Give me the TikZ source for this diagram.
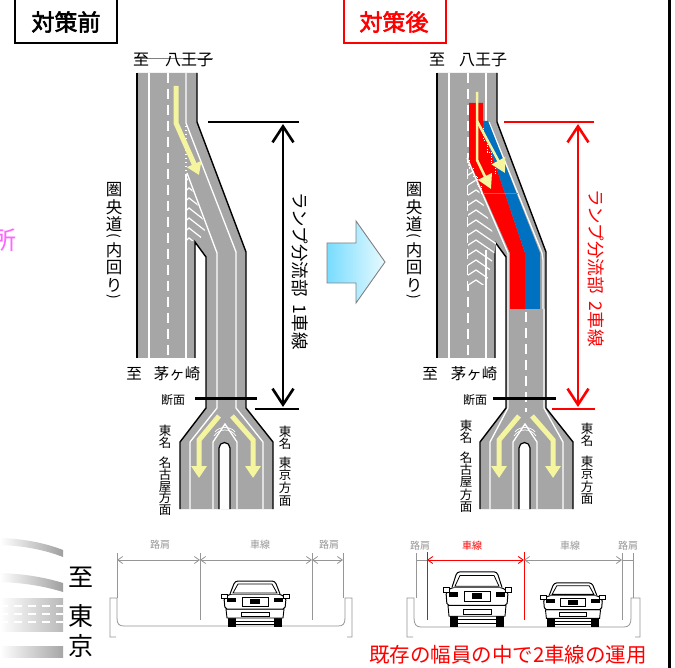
\documentclass[tikz,border=0pt]{standalone}
\usepackage{fontspec}
\setmainfont{Noto Sans CJK JP}[AutoFakeBold=2.5]
\usetikzlibrary{arrows.meta}

\definecolor{roadgray}{RGB}{166,166,166}
\definecolor{laneyel}{RGB}{245,245,160}
\definecolor{laneblue}{RGB}{0,112,192}
\definecolor{pinkmag}{RGB}{255,102,255}
\definecolor{arrcyanA}{RGB}{120,220,255}
\definecolor{arrcyanB}{RGB}{232,250,255}
\definecolor{secgray}{RGB}{150,150,150}

\newcommand\fsz[1]{\fontsize{#1}{#1}\selectfont}

% pavement, edges and the split island of one ramp plan
\newcommand\drawRoad{%
  \fill[roadgray] (137,73) -- (137,358) -- (195,358) -- (195,242) -- (206,257) -- (206,408)
    -- (180,442) -- (180,509) -- (273,509) -- (273,442) -- (246,408) -- (246,252)
    -- (197,122) -- (197,73) -- cycle;
  \draw[edge] (137,73) -- (137,358);
  \draw[edge] (197,73) -- (197,122) -- (246,252) -- (246,408) -- (273,442) -- (273,509);
  \draw[edge] (195,358) -- (195,242) -- (206,257) -- (206,408) -- (180,442) -- (180,509);
}
% lane marks and arrows at the Tomei split
\newcommand\splitMarks{%
  \draw[wline] (213,509) -- (213,442) -- (225,424) -- (237,442) -- (237,509);
  \draw[white,line width=0.7pt] (214,436) .. controls (219,428) and (231,428) .. (236,436);
  \draw[white,line width=0.7pt] (215,432) .. controls (219,426) and (231,426) .. (235,432);
  \filldraw[fill=white,draw=black,line width=1.2pt] (219,509) -- (219,448)
    arc[start angle=180,end angle=360,radius=5.5] -- (230,509);
  \draw[yarrow] (219,416) -- (199,440) -- (199,478);
  \draw[yarrow] (232,416) -- (253,440) -- (253,478);
}

\tikzset{
  car/.pic={
    \fill[black] (-27,-13) rectangle (-19,0);
    \fill[black] (19,-13) rectangle (27,0);
    \draw[line width=0.7pt] (-19,-3) -- (19,-3) (-19,-6) -- (19,-6);
    \draw[line width=0.9pt,fill=white] (-29,-18) -- (-28,-9) -- (28,-9) -- (29,-18) -- cycle;
    \draw[line width=0.6pt] (-14,-15) rectangle (14,-11);
    \draw[line width=1pt,fill=white,rounded corners=2pt] (-30,-18) -- (-31,-29) -- (-25,-33)
      -- (25,-33) -- (31,-29) -- (30,-18) -- cycle;
    \fill[black] (-28,-29) rectangle (-19,-25);
    \fill[black] (19,-29) rectangle (28,-25);
    \draw[line width=0.8pt] (-13,-30) rectangle (13,-21);
    \fill[black] (-5,-28) rectangle (5,-23);
    \draw[line width=1pt,fill=white,rounded corners=3pt] (-25,-33) -- (-20,-46) -- (20,-46) -- (25,-33);
    \draw[line width=0.8pt] (-22,-34) -- (-17,-43) -- (17,-43) -- (22,-34) -- cycle;
    \draw[line width=0.8pt,fill=white] (-34,-33) rectangle (-28,-29);
    \draw[line width=0.8pt,fill=white] (28,-33) rectangle (34,-29);
  }
}

\begin{document}
\begin{tikzpicture}[x=1pt,y=-1pt,
  edge/.style={black,line width=1.4pt},
  wline/.style={white,line width=1.3pt},
  wdash/.style={white,line width=1.3pt,dash pattern=on 10pt off 6pt},
  wdot/.style={white,line width=1.3pt,dash pattern=on 1.5pt off 2.5pt},
  yarrow/.style={laneyel,line width=5pt,-{Triangle[length=12pt,width=15pt]}},
  ythin/.style={laneyel,line width=2.5pt,-{Triangle[length=14pt,width=15pt]}},
  dimline/.style={line width=2.6pt},
  dimarrow/.style={line width=2.6pt,{Straight Barb[length=16pt,width=21pt]}-{Straight Barb[length=16pt,width=21pt]}},
  lbl/.style={inner sep=0pt,outer sep=0pt},
  secline/.style={draw=secgray,line width=0.8pt},
  secdim/.style={secline,{Straight Barb[length=5pt,width=7pt]}-{Straight Barb[length=5pt,width=7pt]}},
  reddim/.style={red,line width=0.9pt,{Straight Barb[length=5pt,width=7pt]}-{Straight Barb[length=5pt,width=7pt]}},
  zebra/.style={white,line width=1.2pt},
]
\useasboundingbox (0,0) rectangle (675,668);
\fill[white] (0,0) rectangle (675,668);

% ---------- frame line on the right ----------
\draw[line width=2.5pt] (669.5,0) -- (669.5,668);

% ---------- title boxes ----------
\draw[line width=2.5pt] (15,-5) rectangle (117,43);
\node[lbl,font=\fsz{23}\bfseries] (tBefore) at (66,22) {対策前};
\draw[red,line width=2.5pt] (344,-5) rectangle (446,43);
\node[lbl,font=\fsz{23}\bfseries,text=red] (tAfter) at (394,22) {対策後};

% ---------- fragments at the left edge ----------
\node[lbl,anchor=east,font=\fsz{25},text=pinkmag] (frag) at (16,240) {所};
\shade[left color=white,right color=gray!75] (0,538) .. controls (30,539) and (50,545) .. (63,550)
  -- (63,557) .. controls (50,552) and (30,546) .. (0,545) -- cycle;
\shade[left color=white,right color=gray!75] (0,573) .. controls (30,574) and (50,579) .. (63,583)
  -- (63,592) .. controls (50,588) and (30,583) .. (0,582) -- cycle;
\shade[left color=white,right color=gray!55] (0,598) rectangle (63,631);
\foreach \yy in {606,614,622}
  \draw[white,line width=1.2pt,dash pattern=on 8pt off 6pt] (0,\yy) -- (63,\yy);
\shade[left color=white,right color=gray!70] (0,646) rectangle (63,657);
\node[lbl,font=\fsz{25}] (toA) at (81,577) {至};
\node[lbl,font=\fsz{25}] (toB) at (81,616) {東};
\node[lbl,font=\fsz{25}] (toC) at (81,646) {京};

% ================= BEFORE =================
\drawRoad
\draw[wline] (149,73) -- (149,358);
\draw[wdash] (168,73) -- (168,358);
\draw[wline] (186,73) -- (186,123) -- (236,252) -- (236,408) -- (263,442) -- (263,509);
\draw[wdot] (186,126) -- (186,172);
\draw[wline] (186,174) -- (186,358);
\draw[wline] (187,173) -- (217,253) -- (217,408) -- (190,442) -- (190,509);
\begin{scope}
  \clip (186,173) -- (206,228) -- (199,241) -- (186,241) -- cycle;
  \foreach \yy in {178,188,...,238}
    \draw[zebra] (180,\yy+8) -- (189,\yy) -- (212,\yy+18);
\end{scope}
\splitMarks
\draw[yarrow] (176,86) -- (176,123) -- (199,175);

\draw[gray,line width=0.8pt] (134,58) -- (213,58);
\node[lbl,font=\fsz{16}] (bN1) at (141,60) {至};
\node[lbl,font=\fsz{16}] (bN2) at (189,60) {八王子};
\node[lbl,font=\fsz{15.5}] (bS1) at (134,374) {至};
\node[lbl,font=\fsz{15.5}] (bS2) at (177,374) {茅ヶ崎};
\foreach \c/\yy in {圏/190,央/207,道/224,内/250,回/268,り/285}
  \node[lbl,font=\fsz{16.5}] (bK\yy) at (114,\yy) {\c};
\node[lbl,font=\fsz{14},rotate=-90] (bKp1) at (114,236) {(};
\node[lbl,font=\fsz{14},rotate=-90] (bKp2) at (114,297) {)};
\node[lbl,font=\fsz{12}] (bDan) at (173,400) {断面};
\draw[line width=3pt] (195,398) -- (257,398);
\foreach \c/\yy in {東/431,名/443,名/463,古/475,屋/487,方/498,面/510}
  \node[lbl,font=\fsz{12.5}] (bW\yy) at (165,\yy) {\c};
\foreach \c/\yy in {東/432,名/444,東/463,京/475,方/488,面/501}
  \node[lbl,font=\fsz{12.5}] (bE\yy) at (285,\yy) {\c};

% dimension of the diverge section
\coordinate (bDimT) at (283,124);
\coordinate (bDimB) at (283,407);
\draw[dimline] (208,122) -- (299,122);
\draw[dimline] (255,409) -- (299,409);
\draw[dimarrow] (bDimT) -- (bDimB);
\node[lbl,font=\fsz{17.5},rotate=-90] (bLen) at (300,271) {ランプ分流部\hspace{0.45em}1車線};

% ---------- arrow between the plans ----------
\shadedraw[left color=arrcyanA,right color=arrcyanB,draw=gray,line width=0.9pt]
  (327,243) -- (356,243) -- (356,221) -- (385,262) -- (356,303) -- (356,283) -- (327,283) -- cycle;
\node[lbl] (midArrow) at (356,262) {};

% ================= AFTER =================
\begin{scope}[xshift=300pt]
  \drawRoad
  \draw[wline] (149,73) -- (149,358);
  \draw[wdash] (168,73) -- (168,358);
  \draw[wline] (186,73) -- (186,123);
  \draw[wline] (186,285) -- (186,358);
  \begin{scope}
    \clip (168,157) -- (196,243) -- (195,250) -- (186,285) -- (168,285) -- cycle;
    \fill[roadgray] (168,157) rectangle (200,290);
    \foreach \yy in {160,170,...,290}
      \draw[zebra] (162,\yy+9) -- (176,\yy) -- (205,\yy+20);
  \end{scope}
  \draw[wline] (167,158) -- (208,253) -- (208,309);
  \draw[wline] (186,250) -- (186,285);
  \draw[wline] (189,122) -- (242,253) -- (243,260) -- (243,309);
  % lanes of the two-lane ramp
  \fill[red] (169,103) -- (183,103) -- (183,128) -- (225,253) -- (225,309) -- (210,309)
    -- (210,253) -- (169,160) -- cycle;
  \fill[laneblue] (183,121) -- (188,121) -- (240,253) -- (240,309) -- (225,309) -- (225,253)
    -- (183,128) -- cycle;
  \draw[white,line width=0.6pt,dash pattern=on 1pt off 1.5pt] (169,160) -- (169,168) -- (173,168)
    -- (173,176) -- (177,176) -- (177,186) -- (181,186) -- (181,194);
  \draw[white,line width=0.6pt,dash pattern=on 1pt off 1.5pt] (183,128) -- (183,140) -- (187,140)
    -- (187,152) -- (191,152) -- (191,164) -- (195,164) -- (195,176);
  \draw[gray,line width=0.8pt] (183,193) -- (218,193);
  \draw[wline] (208,309) -- (208,408) -- (190,442) -- (190,509);
  \draw[wline] (244,309) -- (244,408) -- (263,442) -- (263,509);
  \draw[wdash] (226,312) -- (226,412);
  \splitMarks
  \draw[ythin] (177,92) -- (177,160) -- (191,189);
  \draw[ythin] (177,121) -- (205,173);
\end{scope}

\node[lbl,font=\fsz{16}] (aN1) at (437,60) {至};
\node[lbl,font=\fsz{16}] (aN2) at (483,60) {八王子};
\node[lbl,font=\fsz{15.5}] (aS1) at (430,374) {至};
\node[lbl,font=\fsz{15.5}] (aS2) at (474,374) {茅ヶ崎};
\foreach \c/\yy in {圏/190,央/207,道/224,内/250,回/268,り/285}
  \node[lbl,font=\fsz{16.5}] (aK\yy) at (414,\yy) {\c};
\node[lbl,font=\fsz{14},rotate=-90] (aKp1) at (414,236) {(};
\node[lbl,font=\fsz{14},rotate=-90] (aKp2) at (414,297) {)};
\node[lbl,font=\fsz{12}] (aDan) at (475,400) {断面};
\draw[line width=3pt] (493,398) -- (556,398);
\foreach \c/\yy in {東/426,名/438,名/458,古/470,屋/482,方/495,面/507}
  \node[lbl,font=\fsz{12.5}] (aW\yy) at (466,\yy) {\c};
\foreach \c/\yy in {東/429,名/441,東/462,京/474,方/487,面/499}
  \node[lbl,font=\fsz{12.5}] (aE\yy) at (587,\yy) {\c};

\coordinate (aDimT) at (578,124);
\coordinate (aDimB) at (578,407);
\draw[dimline,red] (504,122) -- (594,122);
\draw[dimline,red] (552,409) -- (595,409);
\draw[dimarrow,red] (aDimT) -- (aDimB);
\node[lbl,font=\fsz{17.5},rotate=-90,text=red] (aLen) at (596,268) {ランプ分流部\hspace{0.45em}2車線};

% ================= CROSS SECTIONS =================
% before
\draw[secline] (116,637) -- (110,637) -- (110,598) -- (117,598) -- (117,618)
  .. controls (117,624) and (119,626) .. (124,626) -- (338,626)
  .. controls (343,626) and (345,624) .. (345,618) -- (345,598) -- (352,598) -- (352,637) -- (347,637);
\draw[secline] (117,553) -- (117,598);
\draw[secline] (200,553) -- (200,620);
\draw[secline] (312,553) -- (312,620);
\draw[secline] (343,553) -- (343,598);
\coordinate (bs1) at (117,560); \coordinate (bs2) at (200,560);
\coordinate (bs3) at (312,560); \coordinate (bs4) at (343,560);
\draw[secdim] (bs1) -- (bs2);
\draw[secdim] (bs2) -- (bs3);
\draw[secdim] (bs3) -- (bs4);
\node[lbl,font=\fsz{10},text=secgray] (bsl1) at (160,545) {路肩};
\node[lbl,font=\fsz{10},text=secgray] (bsl2) at (260,545) {車線};
\node[lbl,font=\fsz{10},text=secgray] (bsl3) at (329,545) {路肩};
\pic at (255,627) {car};

% after
\draw[secline] (413,637) -- (407,637) -- (407,598) -- (414,598) -- (414,618)
  .. controls (414,624) and (416,627) .. (421,627) -- (624,627)
  .. controls (629,627) and (631,624) .. (631,618) -- (631,598) -- (640,598) -- (640,637) -- (635,637);
\draw[secline] (416,553) -- (416,598);
\draw[red,line width=0.8pt] (427,552) -- (427,620);
\draw[red,line width=0.8pt] (524,552) -- (524,620);
\draw[secline] (622,553) -- (622,620);
\draw[secline] (633,553) -- (633,598);
\coordinate (as1) at (416,560); \coordinate (as2) at (427,560);
\coordinate (as3) at (524,560); \coordinate (as4) at (622,560);
\coordinate (as5) at (633,560);
\draw[secline] (as1) -- (as2);
\draw[reddim] (as2) -- (as3);
\draw[secdim] (as3) -- (as4);
\draw[secline] (as4) -- (as5);
\node[lbl,font=\fsz{10},text=secgray] (asl1) at (420,546) {路肩};
\node[lbl,font=\fsz{10},text=red] (asl2) at (472,546) {車線};
\node[lbl,font=\fsz{10},text=secgray] (asl3) at (570,546) {車線};
\node[lbl,font=\fsz{10},text=secgray] (asl4) at (628,546) {路肩};
\pic[yscale=1.2] at (477,627) {car};
\pic[xscale=0.95,yscale=0.96] at (573,627) {car};

\node[lbl,font=\fsz{20.5},text=red] (note) at (508,655) {既存の幅員の中で2車線の運用};
\end{tikzpicture}
\end{document}
